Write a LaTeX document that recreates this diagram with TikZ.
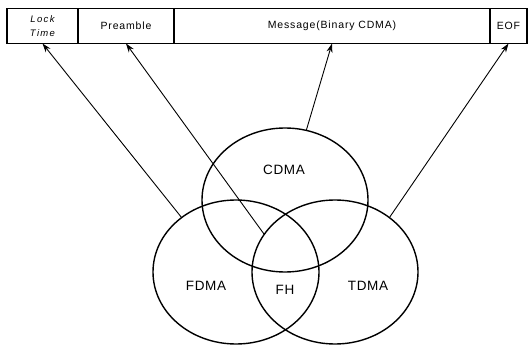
\documentclass[tikz,border=0pt]{standalone}
\usepackage{fontspec}
\setmainfont{Liberation Sans}
\usetikzlibrary{arrows.meta,positioning,shapes.geometric}
\tikzset{
  >={Stealth[length=9pt,width=6pt]},
  % rahmen
  field/.style={draw=black,line width=1.2pt,rectangle,inner sep=0pt,outer sep=0pt,
                minimum height=35pt,
                font=\fontsize{10.5}{12}\selectfont\addfontfeature{LetterSpace=8}},
  % mengen
  set/.style={ellipse,draw=black,line width=1.4pt,inner sep=0pt,outer sep=0pt,
              minimum width=166pt,minimum height=144pt},
  setl/.style={font=\fontsize{13.5}{15}\selectfont\addfontfeature{LetterSpace=5},
               inner sep=0pt},
  pil/.style={->,draw=black,line width=0.9pt},
}
\begin{document}
\begin{tikzpicture}[x=1pt,y=-1pt]
\useasboundingbox (0,0) rectangle (532,347);
  \node[field,minimum width=71pt,align=center,
        font=\itshape\fontsize{9.5}{13.5}\selectfont\addfontfeature{LetterSpace=14}]
        (lock) at (42.5,26) {Lock\\Time};
  \node[field,minimum width=96pt,right=0pt of lock] (pre) {Preamble};
  \node[field,minimum width=316pt,right=0pt of pre] (msg) {Message(Binary CDMA)};
  \node[field,minimum width=37pt,right=0pt of msg] (eof) {EOF};
  \node[set] (cdma) at (285,200) {};
  \node[set] (fdma) at (236,272) {};
  \node[set] (tdma) at (335,272) {};
  \node[setl] (lcdma) at (284,170) {CDMA};
  \node[setl] (lfdma) at (206,286) {FDMA};
  \node[setl] (lfh) at (285,290) {FH};
  \node[setl] (ltdma) at (368,286) {TDMA};
  \draw[pil] (fdma.135) -- (lock.south);
  \draw[pil] (tdma.152) -- (pre.south);
  \draw[pil] (cdma.73) -- (msg.south);
  \draw[pil] (tdma.45) -- (eof.south);
\end{tikzpicture}
\end{document}
